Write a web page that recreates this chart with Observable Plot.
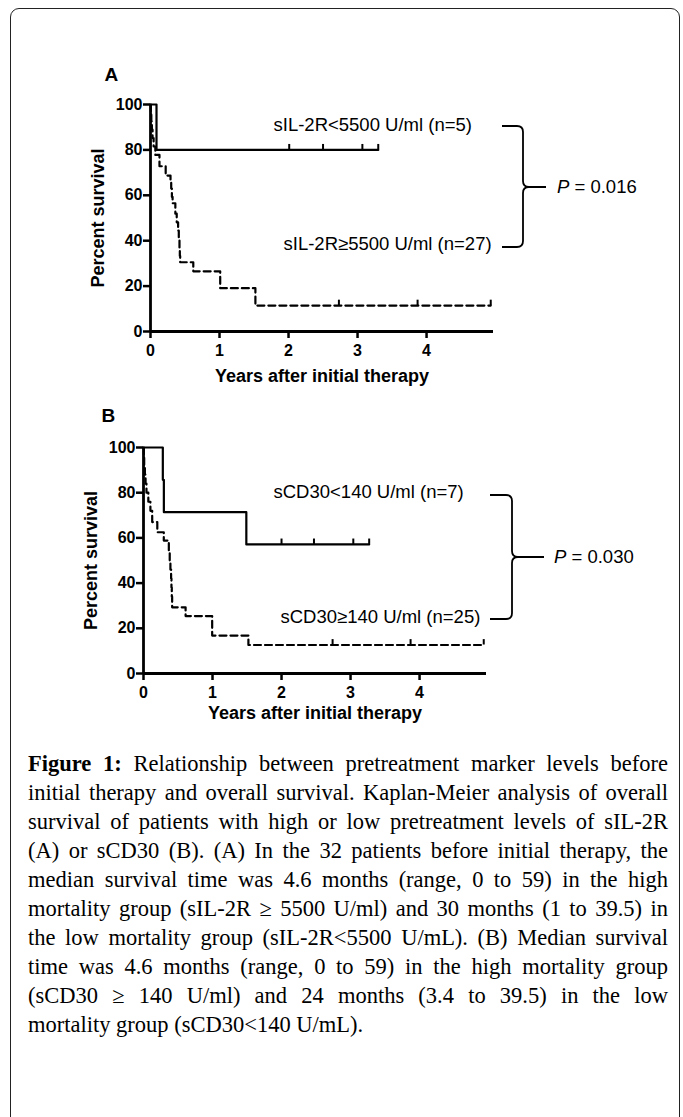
<!DOCTYPE html>
<html>
<head>
<meta charset="utf-8">
<script src="https://cdn.jsdelivr.net/npm/d3@7"></script>
<script src="https://cdn.jsdelivr.net/npm/@observablehq/plot@0.6"></script>
<style>
  body { margin: 0; background: #fff; }
  #page { position: relative; width: 683px; height: 1117px; overflow: hidden; background: #fff; }
  #box { position: absolute; left: 10px; top: 8px; width: 670px; height: 1140px; border: 1.5px solid #222; border-radius: 9px; box-sizing: border-box; z-index: 2; pointer-events: none; }
  .panel { position: absolute; left: 0; }
  #caption { position: absolute; left: 28px; width: 640px; top: 749px; font-family: "Liberation Serif", "Times New Roman", serif; font-size: 22.5px; line-height: 29px; color: #000; }
  .ln { text-align: justify; text-align-last: justify; height: 29px; white-space: nowrap; }
  .ln.last { text-align-last: left; }
</style>
</head>
<body>
<div id="page">
  <div id="box"></div>
  <div id="panelA" class="panel" style="top:0px"></div>
  <div id="panelB" class="panel" style="top:400px"></div>
  <div id="caption"></div>
</div>
<script>
// ---------- data ----------
const yTicks = [0, 20, 40, 60, 80, 100];
const xTicks = [0, 1, 2, 3, 4];
const xMax = 4.97;

// Panel A: sIL-2R
const A_low_t = [0, 0.087, 3.3];
const A_low_s = [100, 80, 80];
const A_low_cens_t = [2.01, 2.5, 3.07, 3.3];
const A_low_cens_s = [80, 80, 80, 80];

const A_high_t = [0, 0.005, 0.012, 0.02, 0.03, 0.045, 0.07, 0.13, 0.22, 0.29, 0.30, 0.31, 0.32, 0.36, 0.38, 0.40, 0.41, 0.42, 0.425, 0.43, 0.62, 1.01, 1.52, 4.93];
const A_high_s = [100, 96.3, 92.6, 88.9, 85.2, 81.5, 77.8, 72.8, 68.7, 66.7, 63.0, 59.3, 56.5, 51.9, 48.1, 44.4, 40.7, 37.0, 33.3, 30.5, 26.5, 19.1, 11.4, 11.4];
const A_high_cens_t = [2.73, 3.87, 4.93];
const A_high_cens_s = [11.4, 11.4, 11.4];

// Panel B: sCD30
const B_low_t = [0, 0.28, 0.295, 1.49, 3.27];
const B_low_s = [100, 85.7, 71.4, 57.1, 57.1];
const B_low_cens_t = [2.0, 2.47, 3.04, 3.27];
const B_low_cens_s = [57.1, 57.1, 57.1, 57.1];

const B_high_t = [0, 0.005, 0.01, 0.02, 0.03, 0.043, 0.07, 0.10, 0.126, 0.20, 0.294, 0.367, 0.38, 0.39, 0.40, 0.405, 0.41, 0.415, 0.61, 0.995, 1.52, 4.93];
const B_high_s = [100, 96, 92, 88, 84, 80, 76, 72, 67, 62.5, 58.8, 54, 50, 46, 42, 38, 34, 29.3, 25.4, 16.8, 12.6, 12.6];
const B_high_cens_t = [2.74, 3.87, 4.93];
const B_high_cens_s = [12.6, 12.6, 12.6];

const labelsA = ["sIL-2R<5500 U/ml (n=5)", "sIL-2R\u22655500 U/ml (n=27)"];
const labelsB = ["sCD30<140 U/ml (n=7)", "sCD30\u2265140 U/ml (n=25)"];
const pValues = ["0.016", "0.030"];
const panelLetters = ["A", "B"];
const yLabel = "Percent survival";
const xLabel = "Years after initial therapy";

const captionLines = [
  "Relationship between pretreatment marker levels before",
  "initial therapy and overall survival. Kaplan-Meier analysis of overall",
  "survival of patients with high or low pretreatment levels of sIL-2R",
  "(A) or sCD30 (B). (A) In the 32 patients before initial therapy, the",
  "median survival time was 4.6 months (range, 0 to 59) in the high",
  "mortality group (sIL-2R \u2265 5500 U/ml) and 30 months (1 to 39.5) in",
  "the low mortality group (sIL-2R<5500 U/mL). (B) Median survival",
  "time was 4.6 months (range, 0 to 59) in the high mortality group",
  "(sCD30 \u2265 140 U/ml) and 24 months (3.4 to 39.5) in the low",
  "mortality group (sCD30<140 U/mL)."
];

// ---------- helpers ----------
const zip = (t, s) => t.map((d, i) => ({t: d, s: s[i]}));
const SANS = "'Liberation Sans', Arial, Helvetica, sans-serif";

function panel(cfg) {
  const low = zip(cfg.lowT, cfg.lowS), high = zip(cfg.highT, cfg.highS);
  const cens = zip(cfg.lowCT, cfg.lowCS).concat(zip(cfg.highCT, cfg.highCS));
  const chart = Plot.plot({
    width: 683,
    height: cfg.height,
    marginLeft: cfg.mL, marginRight: cfg.mR, marginTop: cfg.mT, marginBottom: cfg.mB,
    style: {background: "transparent", overflow: "visible", fontFamily: SANS, fontSize: "16px", fontWeight: "bold", color: "#000"},
    x: {domain: [0, xMax]},
    y: {domain: [0, 100]},
    marks: [
      Plot.axisY({ticks: yTicks, tickFormat: "d", tickSize: 7, tickPadding: 1, strokeWidth: 2.5, label: null, fontSize: 16}),
      Plot.axisX({ticks: xTicks, tickFormat: "d", tickSize: 7, tickPadding: 6, strokeWidth: 2.5, label: null, fontSize: 16}),
      Plot.ruleX([0], {strokeWidth: 2.8}),
      Plot.ruleY([0], {strokeWidth: 2.8}),
      Plot.line(low, {x: "t", y: "s", curve: "step-after", stroke: "#000", strokeWidth: 2.2}),
      Plot.line(high, {x: "t", y: "s", curve: "step-after", stroke: "#000", strokeWidth: 2.2, strokeDasharray: "7,4"}),
      Plot.ruleX(cens, {x: "t", y1: "s", y2: d => d.s + 2.4, stroke: "#000", strokeWidth: 2}),
      Plot.text([yLabel], {frameAnchor: "left", dx: -52, rotate: -90, fontSize: 18, fontWeight: "bold", textAnchor: "middle", lineAnchor: "middle"}),
      Plot.text([xLabel], {frameAnchor: "bottom", dy: cfg.xLabelDy, fontSize: 18, fontWeight: "bold", lineAnchor: "middle"}),
      Plot.text([cfg.letter], {frameAnchor: "top-left", dx: cfg.letterDx, dy: cfg.letterDy, fontSize: 19, fontWeight: "bold", textAnchor: "start", lineAnchor: "middle"}),
      Plot.text([cfg.labels[0]], {frameAnchor: "top-left", dx: cfg.l1[0], dy: cfg.l1[1], fontSize: 18.5, fontWeight: "normal", textAnchor: "start", lineAnchor: "middle"}),
      Plot.text([cfg.labels[1]], {frameAnchor: "top-left", dx: cfg.l2[0], dy: cfg.l2[1], fontSize: 18.5, fontWeight: "normal", textAnchor: "start", lineAnchor: "middle"})
    ]
  });
  // brace + P value annotation (pixel layout relative to the svg)
  const svg = d3.select(chart);
  const b = cfg.brace;
  const r = 6;
  const path = `M${b.left},${b.top} H${b.vert - r} Q${b.vert},${b.top} ${b.vert},${b.top + r} V${b.mid - r} Q${b.vert},${b.mid} ${b.tip},${b.mid} Q${b.vert},${b.mid} ${b.vert},${b.mid + r} V${b.bottom - r} Q${b.vert},${b.bottom} ${b.vert - r},${b.bottom} H${b.left} M${b.tip},${b.mid} H${b.end}`;
  svg.append("path").attr("d", path).attr("fill", "none").attr("stroke", "#000").attr("stroke-width", 1.8);
  const t = svg.append("text").attr("x", b.textX).attr("y", b.mid).attr("dy", "0.35em")
    .attr("text-anchor", "start")
    .attr("font-family", SANS).attr("font-size", 18.5).attr("font-weight", "normal").attr("fill", "#000");
  t.append("tspan").attr("font-style", "italic").text("P");
  t.append("tspan").text(" = " + cfg.p);
  return chart;
}

document.getElementById("panelA").appendChild(panel({
  height: 400, mL: 150, mR: 683 - 493, mT: 104, mB: 400 - 331,
  lowT: A_low_t, lowS: A_low_s, lowCT: A_low_cens_t, lowCS: A_low_cens_s,
  highT: A_high_t, highS: A_high_s, highCT: A_high_cens_t, highCS: A_high_cens_s,
  letter: panelLetters[0], letterDx: -46, letterDy: -30, xLabelDy: 45,
  labels: labelsA, l1: [123, 21], l2: [133, 140],
  p: pValues[0],
  brace: {left: 502, vert: 523, top: 126, bottom: 247, mid: 187, tip: 529, end: 546, textX: 557}
}));

document.getElementById("panelB").appendChild(panel({
  height: 360, mL: 143, mR: 683 - 486, mT: 47, mB: 360 - 273,
  lowT: B_low_t, lowS: B_low_s, lowCT: B_low_cens_t, lowCS: B_low_cens_s,
  highT: B_high_t, highS: B_high_s, highCT: B_high_cens_t, highCS: B_high_cens_s,
  letter: panelLetters[1], letterDx: -42, letterDy: -32, xLabelDy: 40,
  labels: labelsB, l1: [130, 45], l2: [137, 170],
  p: pValues[1],
  brace: {left: 490, vert: 512, top: 95, bottom: 219, mid: 157, tip: 518, end: 544, textX: 554}
}));

// caption
const cap = document.getElementById("caption");
captionLines.forEach((line, i) => {
  const div = document.createElement("div");
  div.className = "ln" + (i === captionLines.length - 1 ? " last" : "");
  if (i === 0) {
    const b = document.createElement("b");
    b.textContent = "Figure 1:";
    div.appendChild(b);
    div.appendChild(document.createTextNode(" " + line));
  } else {
    div.textContent = line;
  }
  cap.appendChild(div);
});
</script>
</body>
</html>
